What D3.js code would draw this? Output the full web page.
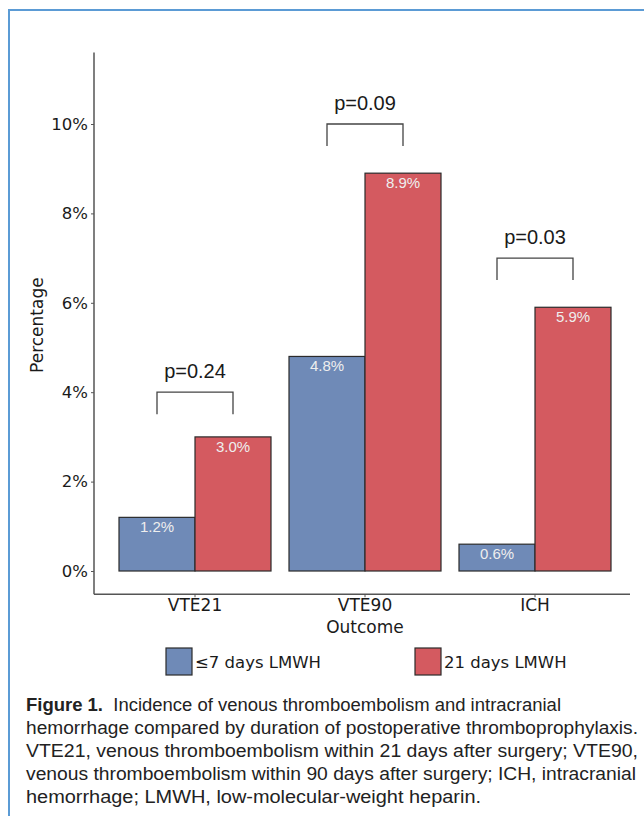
<!DOCTYPE html>
<html lang="en">
<head>
    <meta charset="UTF-8">
    <title>Figure 1</title>
    <script src="https://d3js.org/d3.v7.min.js"></script>
    <style>
        body { margin: 0; background: #fff; }
        svg { display: block; }
    </style>
</head>
<body>
    <div id="chart"></div>

    <script>
        // data
        const outcomes = ["VTE21", "VTE90", "ICH"];
        const groups = ["≤7 days LMWH", "21 days LMWH"];
        const shortValues = [1.2, 4.8, 0.6];
        const longValues = [3.0, 8.9, 5.9];
        const pValues = ["p=0.24", "p=0.09", "p=0.03"];
        const bracketLevels = [4.0, 10.0, 7.0];
        const yTicks = [0, 2, 4, 6, 8, 10];
        const captionLines = [
            "Incidence of venous thromboembolism and intracranial",
            "hemorrhage compared by duration of postoperative thromboprophylaxis.",
            "VTE21, venous thromboembolism within 21 days after surgery; VTE90,",
            "venous thromboembolism within 90 days after surgery; ICH, intracranial",
            "hemorrhage; LMWH, low-molecular-weight heparin."
        ];

        const colors = ["#6f8ab7", "#d45a60"];
        const chartFont = "'DejaVu Sans', sans-serif";
        const pFont = "'Liberation Sans', Arial, sans-serif";

        const svg = d3.select("#chart")
            .append("svg")
            .attr("width", 644)
            .attr("height", 816);

        // frame
        svg.append("path")
            .attr("d", "M9,816 V10 H644")
            .attr("fill", "none")
            .attr("stroke", "#5b9bd5")
            .attr("stroke-width", 2);

        const x = d3.scaleBand().domain(outcomes).range([110, 620]).padding(0);
        const xg = d3.scaleBand().domain(groups).range([-76, 76]);
        const y = d3.scaleLinear().domain([0, 10]).range([571, 124]);

        const rows = outcomes.map((o, i) => ({
            outcome: o,
            vals: [shortValues[i], longValues[i]],
            p: pValues[i],
            level: bracketLevels[i]
        }));

        // axes
        const axisColor = "#555";
        svg.append("line")
            .attr("x1", 94).attr("x2", 94)
            .attr("y1", y(11.6)).attr("y2", y(-0.52))
            .attr("stroke", axisColor).attr("stroke-width", 1.5);
        svg.append("line")
            .attr("x1", 94).attr("x2", 630)
            .attr("y1", y(-0.52)).attr("y2", y(-0.52))
            .attr("stroke", axisColor).attr("stroke-width", 1.5);

        const yAxis = svg.append("g")
            .attr("transform", "translate(94,0)")
            .call(d3.axisLeft(y).tickValues(yTicks).tickFormat(d => d + "%").tickSize(3).tickPadding(3));
        yAxis.select(".domain").remove();
        yAxis.selectAll(".tick line").attr("stroke", axisColor);
        yAxis.selectAll("text")
            .attr("font-family", chartFont)
            .attr("font-size", 16.5)
            .attr("fill", "#1a1a1a");

        const xAxis = svg.append("g")
            .attr("transform", `translate(0,${y(-0.52)})`)
            .call(d3.axisBottom(x).tickSize(3).tickPadding(2));
        xAxis.select(".domain").remove();
        xAxis.selectAll(".tick line").attr("stroke", axisColor);
        xAxis.selectAll("text")
            .attr("font-family", chartFont)
            .attr("font-size", 17)
            .attr("fill", "#1a1a1a");

        svg.append("text")
            .attr("x", x("VTE90") + x.bandwidth() / 2)
            .attr("y", 633)
            .attr("text-anchor", "middle")
            .attr("font-family", chartFont)
            .attr("font-size", 17)
            .attr("fill", "#1a1a1a")
            .text("Outcome");

        svg.append("text")
            .attr("transform", `translate(43,${y(5.5)}) rotate(-90)`)
            .attr("text-anchor", "middle")
            .attr("font-family", chartFont)
            .attr("font-size", 17)
            .attr("fill", "#1a1a1a")
            .text("Percentage");

        // bars
        const grp = svg.selectAll(".grp")
            .data(rows)
            .enter().append("g")
            .attr("class", "grp")
            .attr("transform", d => `translate(${x(d.outcome) + x.bandwidth() / 2},0)`);

        grp.selectAll("rect")
            .data(d => d.vals.map((v, j) => ({ v, g: groups[j], j })))
            .enter().append("rect")
            .attr("x", d => xg(d.g))
            .attr("width", xg.bandwidth())
            .attr("y", d => y(d.v))
            .attr("height", d => y(0) - y(d.v))
            .attr("fill", d => colors[d.j])
            .attr("stroke", "#2b2b2b")
            .attr("stroke-width", 1.2);

        grp.selectAll(".val")
            .data(d => d.vals.map((v, j) => ({ v, g: groups[j] })))
            .enter().append("text")
            .attr("class", "val")
            .attr("x", d => xg(d.g) + xg.bandwidth() / 2)
            .attr("y", d => y(d.v) + 15)
            .attr("text-anchor", "middle")
            .attr("font-family", pFont)
            .attr("font-size", 15)
            .attr("fill", "#eeeeee")
            .text(d => d.v.toFixed(1) + "%");

        // significance brackets
        const cLeft = xg(groups[0]) + xg.bandwidth() / 2;
        const cRight = xg(groups[1]) + xg.bandwidth() / 2;
        grp.append("path")
            .attr("d", d => `M${cLeft},${y(d.level) + 22} V${y(d.level)} H${cRight} V${y(d.level) + 22}`)
            .attr("fill", "none")
            .attr("stroke", "#444")
            .attr("stroke-width", 1.3);
        grp.append("text")
            .attr("x", 0)
            .attr("y", d => y(d.level) - 14)
            .attr("text-anchor", "middle")
            .attr("font-family", pFont)
            .attr("font-size", 20)
            .attr("fill", "#1a1a1a")
            .text(d => d.p);

        // legend
        const legendX = [166, 415];
        const legend = svg.selectAll(".leg")
            .data(groups)
            .enter().append("g")
            .attr("class", "leg")
            .attr("transform", (d, i) => `translate(${legendX[i]},648)`);
        legend.append("rect")
            .attr("width", 26).attr("height", 27)
            .attr("fill", (d, i) => colors[i])
            .attr("stroke", "#2b2b2b")
            .attr("stroke-width", 1.2);
        legend.append("text")
            .attr("x", 29)
            .attr("y", 20)
            .attr("font-family", chartFont)
            .attr("font-size", 16.5)
            .attr("fill", "#1a1a1a")
            .text(d => d);

        // caption
        const capFont = "'Liberation Sans', Arial, sans-serif";
        const lineEnds = [561, 638, 638, 636, 481];
        const cap = svg.append("g");
        captionLines.forEach((line, i) => {
            const t = cap.append("text")
                .attr("x", 26)
                .attr("y", 711 + i * 23)
                .attr("font-family", capFont)
                .attr("font-size", 17.5)
                .attr("fill", "#222");
            if (i === 0) {
                t.append("tspan").attr("font-weight", "bold").text("Figure 1.");
                t.append("tspan").text("\u00a0 " + line);
            } else {
                t.text(line);
            }
            t.attr("textLength", lineEnds[i] - 26).attr("lengthAdjust", "spacingAndGlyphs");
        });
    </script>
</body>
</html>
